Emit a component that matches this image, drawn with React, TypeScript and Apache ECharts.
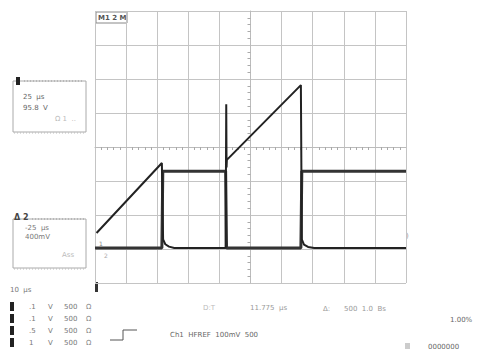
import React, { useEffect, useRef } from "react";
import * as echarts from "echarts";

// Trace 1: switching voltage (divisions: x -5..5, y -4..4)
const trace1X = [-5, -2.85, -2.82, -0.8, -0.77, 1.62, 1.65, 5];
const trace1Y = [-2.97, -2.97, -0.71, -0.71, -2.97, -2.97, -0.71, -0.71];

// Trace 2: ramp current
const trace2X = [-4.95, -2.85, -2.81, -2.74, -2.62, -2.45, -0.8, -0.78, -0.77, -0.76, 1.62, 1.65, 1.72, 1.85, 2.05, 5];
const trace2Y = [-2.53, -0.47, -2.72, -2.86, -2.93, -2.97, -2.97, 1.26, -0.6, -0.38, 1.82, -2.72, -2.87, -2.94, -2.97, -2.97];

const channelRows = [
  ["1", ".1", "V", "500", "Ω"],
  ["2", ".1", "V", "500", "Ω"],
  ["3", ".5", "V", "500", "Ω"],
  ["4", "1", "V", "500", "Ω"],
];

export default function App() {
  const ref = useRef<HTMLDivElement>(null);
  useEffect(() => {
    const chart = echarts.init(ref.current!, null, { renderer: "svg" });
    const t1 = trace1X.map((x, i) => [x, trace1Y[i]]);
    const t2 = trace2X.map((x, i) => [x, trace2Y[i]]);
    const font = "DejaVu Sans";
    const txt = (x: number, y: number, text: string, fill = "#777", size = 7, weight: any = "normal") => ({
      type: "text",
      x,
      y,
      style: { text, fill, fontSize: size, fontFamily: font, fontWeight: weight },
    });
    const graphic: any[] = [
      // top label
      { type: "rect", shape: { x: 96, y: 12, width: 31, height: 11 }, style: { fill: "#fff", stroke: "#888", lineWidth: 1 } },
      txt(98, 14, "M1 2 M", "#555", 7, "bold"),
      // box 1
      { type: "rect", shape: { x: 13, y: 81, width: 73, height: 51 }, style: { fill: "#fff", stroke: "#aaa", lineWidth: 1 } },
      { type: "rect", shape: { x: 16, y: 77, width: 4, height: 8 }, style: { fill: "#222" } },
      { type: "line", shape: { x1: 24, y1: 81, x2: 84, y2: 81 }, style: { stroke: "#999", lineWidth: 1, lineDash: [1, 2] } },
      { type: "line", shape: { x1: 14, y1: 133, x2: 84, y2: 133 }, style: { stroke: "#bbb", lineWidth: 1, lineDash: [1, 2] } },
      txt(23, 93, "25  µs", "#666"),
      txt(23, 104, "95.8  V", "#666"),
      txt(55, 115, "Ω 1  ..", "#bbb"),
      // box 2
      { type: "rect", shape: { x: 13, y: 219, width: 73, height: 49 }, style: { fill: "#fff", stroke: "#aaa", lineWidth: 1 } },
      txt(14, 213, "Δ 2", "#444", 8, "bold"),
      { type: "line", shape: { x1: 32, y1: 219, x2: 84, y2: 219 }, style: { stroke: "#999", lineWidth: 1, lineDash: [1, 2] } },
      { type: "line", shape: { x1: 14, y1: 269, x2: 84, y2: 269 }, style: { stroke: "#bbb", lineWidth: 1, lineDash: [1, 2] } },
      txt(25, 224, "-25  µs", "#777"),
      txt(25, 233, "400mV", "#777"),
      txt(62, 251, "Ass", "#bbb"),
      // timebase
      txt(10, 286, "10  µs", "#777"),
      // trigger marker at bottom-left of grid
      { type: "rect", shape: { x: 95, y: 282, width: 3, height: 10 }, style: { fill: "#333" } },
      txt(99, 240, "1", "#888", 6),
      txt(104, 252, "2", "#aaa", 6),
      txt(406, 232, ")", "#999", 7),
      // step symbol
      { type: "polyline", shape: { points: [[110, 340], [123, 340], [123, 330], [137, 330]] }, style: { stroke: "#555", lineWidth: 1, fill: "none" } },
      txt(170, 331, "Ch1  HFREF  100mV  500", "#666"),
      txt(203, 304, "D:T", "#bbb"),
      txt(250, 304, "11.775  µs", "#999"),
      txt(323, 305, "Δ:", "#999"),
      txt(344, 305, "500  1.0  Bs", "#999"),
      txt(450, 316, "1.00%", "#666"),
      { type: "rect", shape: { x: 405, y: 343, width: 5, height: 6 }, style: { fill: "#ccc" } },
      txt(428, 343, "0000000", "#666"),
    ];
    channelRows.forEach((row, i) => {
      const y = 302 + i * 12;
      graphic.push({ type: "rect", shape: { x: 10, y: y, width: 4, height: 9 }, style: { fill: "#222" } });
      graphic.push(txt(29, y + 1, row[1], "#777"));
      graphic.push(txt(48, y + 1, row[2], "#777"));
      graphic.push(txt(64, y + 1, row[3], "#777"));
      graphic.push(txt(86, y + 1, row[4], "#888"));
    });

    chart.setOption({
      animation: false,
      grid: { left: 95, top: 11, width: 311, height: 272 },
      xAxis: {
        type: "value",
        min: -5,
        max: 5,
        interval: 1,
        axisLabel: { show: false },
        axisLine: { show: true, onZero: true, lineStyle: { color: "#bbb" } },
        axisTick: { show: false },
        minorTick: { show: true, splitNumber: 5, length: 3, lineStyle: { color: "#aaa" } },
        splitLine: { show: true, lineStyle: { color: "#c4c4c4", width: 1 } },
      },
      yAxis: {
        type: "value",
        min: -4,
        max: 4,
        interval: 1,
        axisLabel: { show: false },
        axisLine: { show: true, onZero: true, lineStyle: { color: "#bbb" } },
        axisTick: { show: false },
        minorTick: { show: true, splitNumber: 5, length: 3, lineStyle: { color: "#aaa" } },
        splitLine: { show: true, lineStyle: { color: "#c4c4c4", width: 1 } },
      },
      series: [
        {
          type: "line",
          data: t1,
          showSymbol: false,
          lineStyle: { color: "#333", width: 3 },
          z: 3,
        },
        {
          type: "line",
          data: t2,
          showSymbol: false,
          lineStyle: { color: "#222", width: 2 },
          z: 4,
        },
      ],
      graphic,
    });
    return () => chart.dispose();
  }, []);
  return <div ref={ref} style={{ width: 493, height: 355, position: "absolute", left: 0, top: 0, background: "#fff" }} />;
}
